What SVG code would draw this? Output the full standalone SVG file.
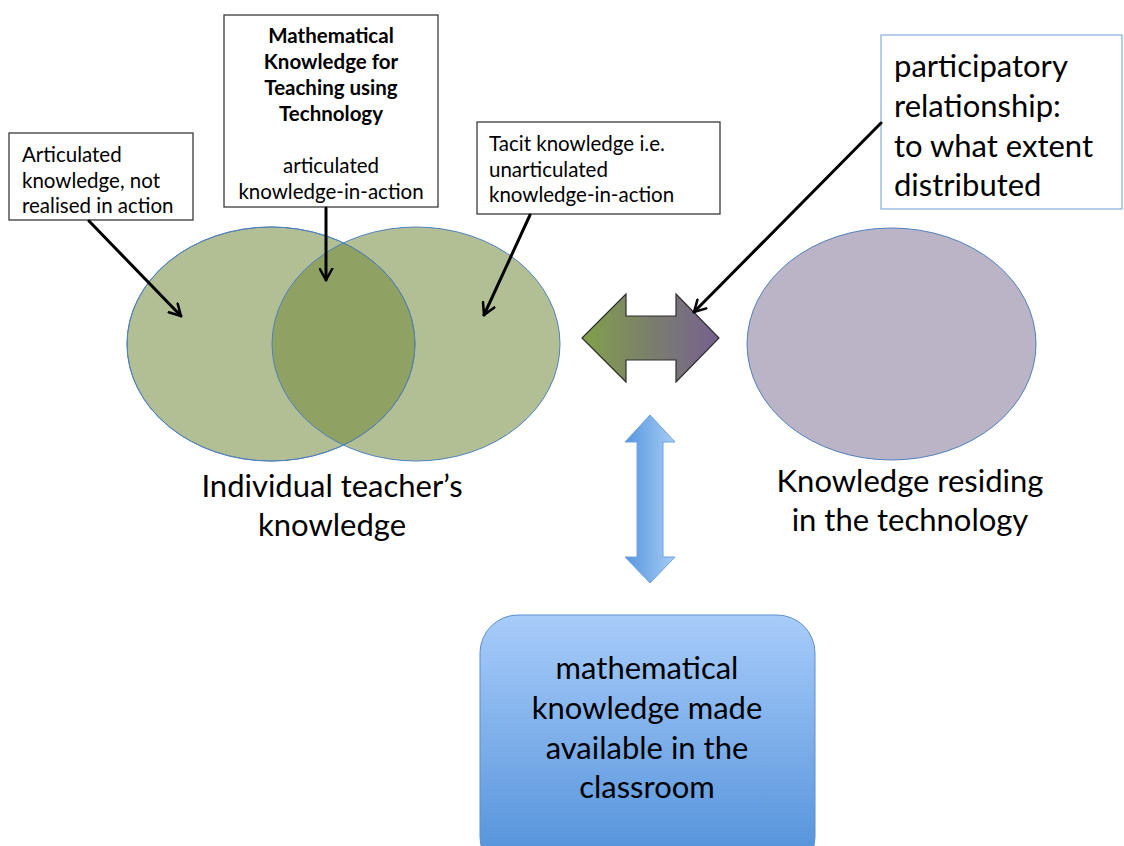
<svg xmlns="http://www.w3.org/2000/svg" width="1124" height="846" viewBox="0 0 1124 846">
<style>
  .t { font-family: Lato, "Open Sans", "Liberation Sans", sans-serif; fill: #000; }
  .s18 { font-size: 20.5px; }
  .s28 { font-size: 31px; }
  .box { fill: #fff; stroke: #3a3a3a; stroke-width: 1.3; }
  .ell { stroke: #4f81bd; stroke-width: 1; }
  .ptr { fill: none; stroke: #000; stroke-width: 3; stroke-linecap: round; }
</style>
<defs>
  <linearGradient id="gH" x1="0" y1="0" x2="1" y2="0">
    <stop offset="0" stop-color="#82a04a"/>
    <stop offset="0.5" stop-color="#7b7f6c"/>
    <stop offset="1" stop-color="#76608f"/>
  </linearGradient>
  <linearGradient id="gV" x1="0" y1="0" x2="1" y2="0">
    <stop offset="0" stop-color="#5696de"/>
    <stop offset="1" stop-color="#a7ccf6"/>
  </linearGradient>
  <linearGradient id="gB" x1="0" y1="0" x2="0" y2="1">
    <stop offset="0" stop-color="#a8ccfa"/>
    <stop offset="1" stop-color="#4f8fd8"/>
  </linearGradient>
  <marker id="open" viewBox="0 0 12 12" refX="10" refY="6" markerWidth="5" markerHeight="5" markerUnits="strokeWidth" orient="auto">
    <path d="M1,1 L10,6 L1,11" fill="none" stroke="#000" stroke-width="2" stroke-linecap="round" stroke-linejoin="round"/>
  </marker>
</defs>
<rect width="1124" height="846" fill="#fff"/>

<g id="teacher-knowledge">
  <ellipse class="ell" cx="271" cy="344" rx="144" ry="117" fill="rgb(114,138,61)" fill-opacity="0.55"/>
  <ellipse class="ell" cx="416" cy="344" rx="144" ry="117" fill="rgb(114,138,61)" fill-opacity="0.55"/>
  <ellipse cx="271" cy="344" rx="144" ry="117" fill="none" stroke="#4f81bd" stroke-width="1"/>
  <text class="t s28" text-anchor="middle" x="332" y="497">Individual teacher’s</text>
  <text class="t s28" text-anchor="middle" x="332" y="536">knowledge</text>
</g>

<g id="technology-knowledge">
  <ellipse class="ell" cx="891.5" cy="344" rx="144.5" ry="116" fill="#bbb4c6"/>
  <text class="t s28" text-anchor="middle" x="910" y="492">Knowledge residing</text>
  <text class="t s28" text-anchor="middle" x="910" y="531">in the technology</text>
</g>

<g id="box-articulated">
  <rect class="box" x="9" y="133" width="184" height="87"/>
  <text class="t s18" x="22" y="162">Articulated</text>
  <text class="t s18" x="22" y="188">knowledge, not</text>
  <text class="t s18" x="22" y="213">realised in action</text>
</g>

<g id="box-mkt">
  <rect class="box" x="224" y="15" width="214" height="192"/>
  <text class="t s18" text-anchor="middle" x="331" y="43" font-weight="bold">Mathematical</text>
  <text class="t s18" text-anchor="middle" x="331" y="69" font-weight="bold">Knowledge for</text>
  <text class="t s18" text-anchor="middle" x="331" y="95" font-weight="bold">Teaching using</text>
  <text class="t s18" text-anchor="middle" x="331" y="121" font-weight="bold">Technology</text>
  <text class="t s18" text-anchor="middle" x="331" y="173">articulated</text>
  <text class="t s18" text-anchor="middle" x="331" y="199">knowledge-in-action</text>
</g>

<g id="box-tacit">
  <rect class="box" x="477" y="122" width="243" height="92"/>
  <text class="t s18" x="489" y="151">Tacit knowledge i.e.</text>
  <text class="t s18" x="489" y="177">unarticulated</text>
  <text class="t s18" x="489" y="202">knowledge-in-action</text>
</g>

<g id="box-participatory">
  <rect x="881" y="35" width="241" height="174" fill="#fff" stroke="#8fb4df" stroke-width="1.3"/>
  <text class="t s28" x="894" y="77">participatory</text>
  <text class="t s28" x="894" y="117">relationship:</text>
  <text class="t s28" x="894" y="157">to what extent</text>
  <text class="t s28" x="894" y="196">distributed</text>
</g>

<g id="double-arrow-horizontal">
  <path d="M582,338 L626,294 L626,316 L676,316 L676,294 L719,338 L676,382 L676,360 L626,360 L626,382 Z" fill="url(#gH)" stroke="#2e2e2e" stroke-width="1.2" stroke-linejoin="miter"/>
</g>

<g id="double-arrow-vertical">
  <path d="M650,415 L675,442 L663,442 L663,557 L675,557 L650,583 L625,557 L637,557 L637,442 L625,442 Z" fill="url(#gV)" stroke="#6ea2e0" stroke-width="1"/>
</g>

<g id="classroom">
  <rect x="480" y="615" width="335" height="260" rx="38" ry="38" fill="url(#gB)" stroke="#5b8fcf" stroke-width="1"/>
  <text class="t s28" text-anchor="middle" x="647" y="679">mathematical</text>
  <text class="t s28" text-anchor="middle" x="647" y="719">knowledge made</text>
  <text class="t s28" text-anchor="middle" x="647" y="759">available in the</text>
  <text class="t s28" text-anchor="middle" x="647" y="798">classroom</text>
</g>

<g id="connectors">
  <line class="ptr" x1="89" y1="221" x2="181" y2="316" marker-end="url(#open)"/>
  <line class="ptr" x1="326" y1="208" x2="326" y2="280" marker-end="url(#open)"/>
  <line class="ptr" x1="530" y1="215" x2="484" y2="315" marker-end="url(#open)"/>
  <line class="ptr" x1="881" y1="123" x2="694" y2="312" stroke-width="2.5" marker-end="url(#open)"/>
</g>
</svg>
